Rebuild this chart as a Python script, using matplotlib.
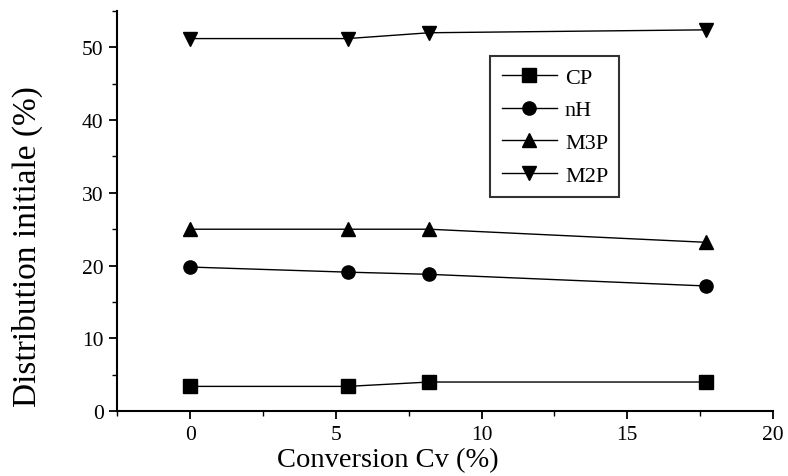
import matplotlib
matplotlib.use("Agg")
import matplotlib.pyplot as plt
from matplotlib.ticker import MultipleLocator

plt.rcParams.update({
    "font.family": ["Liberation Serif", "DejaVu Serif"],
})

# data
conversion = [0, 5.4, 8.2, 17.7]
cp = [3.4, 3.4, 4.0, 4.0]
nh = [19.8, 19.1, 18.8, 17.2]
m3p = [25.0, 25.0, 25.0, 23.2]
m2p = [51.2, 51.2, 52.0, 52.4]

series = [
    ("CP", cp, "s"),
    ("nH", nh, "o"),
    ("M3P", m3p, "^"),
    ("M2P", m2p, "v"),
]

fig = plt.figure(figsize=(7.88, 4.77), dpi=100)
ax = fig.add_axes([0.149, 0.136, 0.832, 0.839])

for name, vals, mk in series:
    ax.plot(conversion, vals, color="black", linewidth=1.0, marker=mk,
            markersize=9.5, markerfacecolor="black", markeredgecolor="black",
            label=name)

ax.set_xlim(-2.5, 20)
ax.set_ylim(0, 55)
ax.xaxis.set_major_locator(MultipleLocator(5))
ax.xaxis.set_minor_locator(MultipleLocator(2.5))
ax.yaxis.set_major_locator(MultipleLocator(10))
ax.yaxis.set_minor_locator(MultipleLocator(5))

ax.spines["top"].set_visible(False)
ax.spines["right"].set_visible(False)
for s in ("left", "bottom"):
    ax.spines[s].set_linewidth(1.5)

ax.tick_params(which="major", direction="out", length=6, width=1.3,
               labelsize=15.5, pad=4)
ax.tick_params(which="minor", direction="out", length=3.5, width=1.0)

# labels sit off-centre in the original scan
ax.set_xlabel("Conversion Cv (%)", fontsize=20.5)
ax.xaxis.set_label_coords(0.413, -0.09)
ax.set_ylabel("Distribution initiale (%)", fontsize=24)
ax.yaxis.set_label_coords(-0.114, 0.4125)

leg = ax.legend(loc="upper left", bbox_to_anchor=(0.569, 0.8875),
                borderaxespad=0, fontsize=16, frameon=True, fancybox=False,
                handlelength=2.5, handletextpad=0.35, labelspacing=0.55,
                borderpad=0.5)
leg.get_frame().set_edgecolor("black")
leg.get_frame().set_linewidth(1.5)

fig.savefig("out.png", dpi=100)
